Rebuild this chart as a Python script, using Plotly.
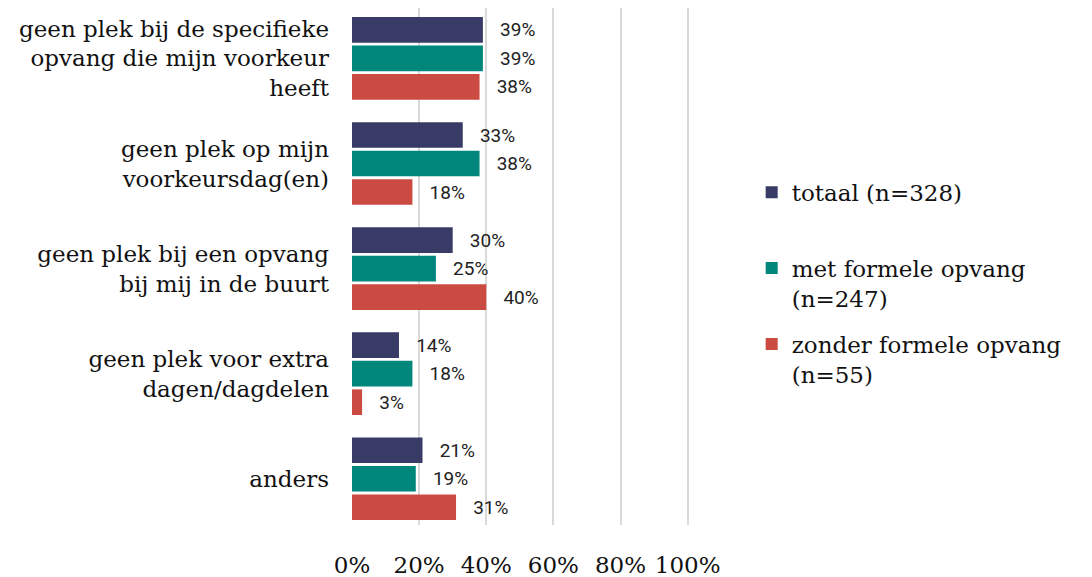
import plotly.graph_objects as go

categories = [
    "geen plek bij de specifieke<br>opvang die mijn voorkeur<br>heeft",
    "geen plek op mijn<br>voorkeursdag(en)",
    "geen plek bij een opvang<br>bij mij in de buurt",
    "geen plek voor extra<br>dagen/dagdelen",
    "anders",
]
series_names = ["totaal (n=328)<br>\u00a0", "met formele opvang<br>(n=247)", "zonder formele opvang<br>(n=55)"]
totaal = [39, 33, 30, 14, 21]
met_formeel = [39, 38, 25, 18, 19]
zonder_formeel = [38, 18, 40, 3, 31]
colors = ["#383b66", "#00867a", "#cb4b43"]

serif = "DejaVu Serif"
fig = go.Figure()
for i, (name, vals) in enumerate(zip(series_names, [totaal, met_formeel, zonder_formeel])):
    fig.add_trace(go.Bar(
        y=categories, x=[v / 100 for v in vals], name=name, orientation="h",
        marker=dict(color=colors[i], line=dict(width=0)),
        text=["\u00a0\u00a0\u00a0" + f"{v}%" for v in vals], textposition="outside",
        textfont=dict(family="Roboto", size=19, color="#222222"),
        cliponaxis=False, legendgroup=str(i),
    ))

# page has an 8px body margin, so the figure is a bit smaller than the window
fig.update_layout(
    width=1084, height=569,
    margin=dict(l=344, r=401, t=0, b=52, autoexpand=False),
    paper_bgcolor="white", plot_bgcolor="white",
    barmode="group", bargap=0.186, bargroupgap=0.1,
    font=dict(family=serif, size=23, color="#111111"),
    showlegend=True,
    legend=dict(x=1.179, y=0.685, xanchor="left", yanchor="top",
                font=dict(family=serif, size=23, color="#111111"),
                tracegroupgap=13, valign="top", itemwidth=30,
                traceorder="grouped"),
)
fig.update_xaxes(range=[0, 1.01], tickvals=[0, 0.2, 0.4, 0.6, 0.8, 1.0],
                 ticktext=["0%", "20%", "40%", "60%", "80%", "100%"],
                 showgrid=True, gridcolor="#d9d9d9", gridwidth=2,
                 zeroline=False, showline=False, ticks="",
                 ticklabelstandoff=24, tickfont=dict(family=serif, size=23))
fig.update_yaxes(range=[4.44, -0.48], showgrid=False, showline=False,
                 ticks="", ticklabelstandoff=22, tickfont=dict(family=serif, size=23))

fig.write_html("out.html")
